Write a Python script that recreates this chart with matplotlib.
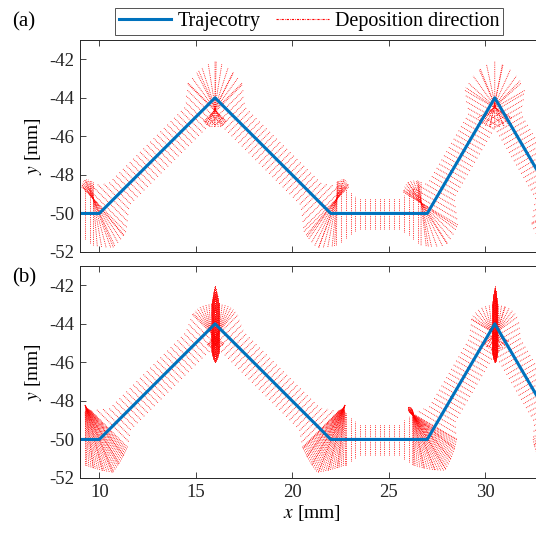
import numpy as np
import matplotlib.pyplot as plt
from matplotlib.collections import LineCollection
from matplotlib.lines import Line2D

# trajectory vertices [mm]
traj_x = [9, 10, 16, 22, 27, 30.5, 34, 35]
traj_y = [-50, -50, -44, -50, -50, -44, -50, -50]

x_ticks = [10, 15, 20, 25, 30]
y_ticks = [-52, -50, -48, -46, -44, -42]
panel_tags = ['(a)', '(b)']
legend_labels = ['Trajecotry', 'Deposition direction']

plt.rcParams['font.family'] = ['Liberation Serif', 'DejaVu Serif']
plt.rcParams['mathtext.fontset'] = 'stix'
plt.rcParams['axes.unicode_minus'] = False

BLUE = '#0072BD'
BASE_LEN = 0.8

# corner settings: turn window w, flat plateau p, fine spacing, up/down
# length at the corner, reach of the lengthening, extra spike length/reach
corner_a = {
    'peak': dict(w=0.45, p=0.0, fine=0.09, lu=1.9, ld=1.5, reach=1.4, spike=0.0, sreach=0.1),
    'valley': dict(w=0.32, p=0.0, fine=0.07, lu=1.9, ld=1.9, reach=1.4, spike=0.0, sreach=0.1),
}
corner_b = {
    'peak': dict(w=0.42, p=0.3, fine=0.018, lu=1.4, ld=1.2, reach=1.3, spike=2.0, sreach=0.38),
    'valley': dict(w=0.75, p=0.0, fine=0.06, lu=1.95, ld=1.85, reach=1.5, spike=0.0, sreach=0.1),
}


def ramp(d, w, p):
    t = np.clip((np.abs(d) - p) / (w - p), 0, 1)
    return 0.5 + 0.5 * np.sign(d) * t


def direction_segments(ds, corners):
    vx, vy = np.array(traj_x, float), np.array(traj_y, float)
    S = np.concatenate([[0], np.cumsum(np.hypot(np.diff(vx), np.diff(vy)))])
    phis = np.arctan2(np.diff(vx), -np.diff(vy))
    dphis = np.diff(phis)
    kinds = ['peak' if dp < 0 else 'valley' for dp in dphis]

    s = [np.arange(0, S[-1] + 1e-9, ds)]
    for Sk, kind in zip(S[1:-1], kinds):
        c = corners[kind]
        s.append(Sk + np.arange(-c['w'], c['w'] + 1e-9, c['fine']))
    s = np.unique(np.round(np.concatenate(s), 4))
    s = s[(s >= 0) & (s <= S[-1])]
    px, py = np.interp(s, S, vx), np.interp(s, S, vy)

    phi = np.full_like(s, phis[0])
    up = np.full_like(s, BASE_LEN)
    dn = np.full_like(s, BASE_LEN)
    for Sk, dphi, kind in zip(S[1:-1], dphis, kinds):
        c = corners[kind]
        d = s - Sk
        phi += dphi * ramp(d, c['w'], c['p'])
        tri = np.clip(1 - np.abs(d) / c['reach'], 0, 1)
        up = np.maximum(up, BASE_LEN + (c['lu'] - BASE_LEN) * tri)
        dn = np.maximum(dn, BASE_LEN + (c['ld'] - BASE_LEN) * tri)
        if c['spike'] > 0:
            sp = np.clip(1 - np.abs(d) / c['sreach'], 0, 1) ** 0.35
            up = np.maximum(up, c['spike'] * sp)
            dn = np.maximum(dn, c['spike'] * sp)
    nx, ny = np.cos(phi), np.sin(phi)
    p0 = np.column_stack([px - dn * nx, py - dn * ny])
    p1 = np.column_stack([px + up * nx, py + up * ny])
    return np.stack([p0, p1], axis=1)


fig = plt.figure(figsize=(5.36, 5.35), dpi=100)
ax_a = fig.add_axes([80 / 536, 1 - 252 / 535, 463 / 536, 212 / 535])
ax_b = fig.add_axes([80 / 536, 1 - 478 / 535, 463 / 536, 212 / 535])

segs = {
    ax_a: direction_segments(0.25, corner_a),
    ax_b: direction_segments(0.25, corner_b),
}

for ax, tag, ty in zip([ax_a, ax_b], panel_tags, [22, 278]):
    lc = LineCollection(segs[ax], colors='r', linewidths=0.6,
                        linestyles=[(0, (1, 1.2))])
    ax.add_collection(lc)
    ax.plot(traj_x, traj_y, color=BLUE, lw=2.2, solid_capstyle='butt')
    ax.set_xlim(9, 33)
    ax.set_ylim(-52, -41)
    ax.set_xticks(x_ticks)
    ax.set_yticks(y_ticks)
    ax.tick_params(direction='in', top=True, right=True, length=4,
                   width=0.6, labelsize=13.5, colors='#262626', pad=4)
    for sp in ax.spines.values():
        sp.set_color('#262626')
        sp.set_linewidth(0.7)
    ax.set_ylabel(r'$y$ [mm]', fontsize=14, labelpad=4)
    fig.text(12 / 536, 1 - ty / 535, tag, fontsize=15, va='center', ha='left')

ax_a.tick_params(labelbottom=False)
ax_b.set_xlabel(r'$x$ [mm]', fontsize=14, labelpad=2)

handles = [Line2D([], [], color=BLUE, lw=2.2),
           Line2D([], [], color='r', lw=0.8, ls=(0, (2, 1, 0.6, 1)))]
leg = fig.legend(handles, legend_labels, loc='center',
                 bbox_to_anchor=(309 / 536, 1 - 21.5 / 535), ncol=2,
                 fontsize=14.5, frameon=True, fancybox=False,
                 handlelength=2.6, handletextpad=0.3, columnspacing=0.8,
                 borderpad=0.2, borderaxespad=0)
leg.get_frame().set_edgecolor('#262626')
leg.get_frame().set_linewidth(0.7)

fig.savefig('out.png', dpi=100)
